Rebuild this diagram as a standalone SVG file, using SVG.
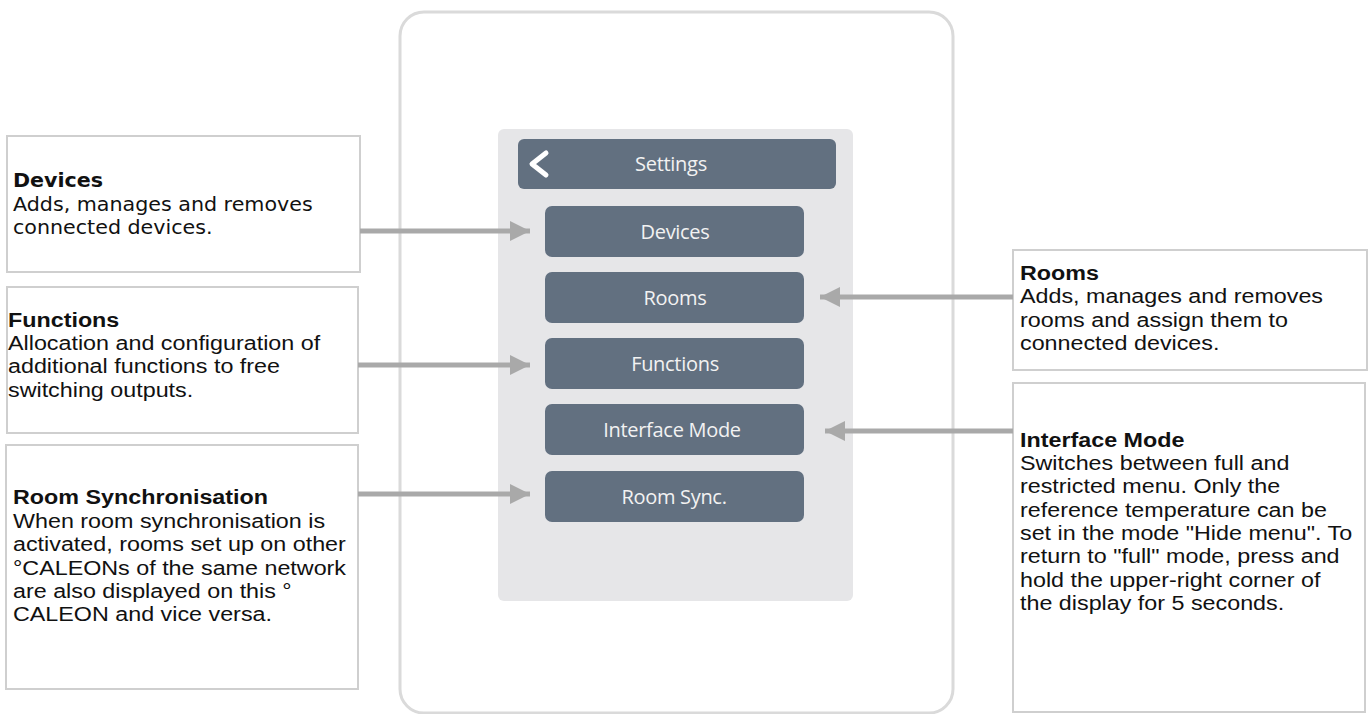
<svg xmlns="http://www.w3.org/2000/svg" width="1371" height="714" viewBox="0 0 1371 714">
<defs>
<style>
.frame{fill:#ffffff;stroke:#dadada;stroke-width:3}
.panel{fill:#e6e6e8}
.btn{fill:#627080}
.btxt{font-family:"Open Sans","Noto Sans",sans-serif;font-size:20px;fill:#f2f2f2;text-anchor:middle;letter-spacing:-0.3px}
.box{fill:#ffffff;stroke:#cfcfcf;stroke-width:2}
.t{font-family:"Liberation Sans",Arial,sans-serif;font-size:21px;fill:#111111}
.tb{font-weight:bold}
.tt{font-family:"DejaVu Sans",Verdana,sans-serif;font-size:18.6px;fill:#111111}
.conn{stroke:#a9a9a9;stroke-width:5;fill:none}
</style>
<marker id="ah" markerWidth="20" markerHeight="20" viewBox="0 0 20 20" refX="20" refY="10" markerUnits="userSpaceOnUse" orient="auto">
<path d="M0,0 L20,10 L0,20 Z" fill="#a9a9a9"/>
</marker>
</defs>

<g id="device">
<rect class="frame" x="400" y="12" width="553" height="701" rx="24"/>
<rect class="panel" x="498" y="129" width="355" height="472" rx="6"/>
</g>

<g id="header">
<rect class="btn" x="518" y="139" width="318" height="50" rx="6"/>
<polyline points="546,153 532,164 546,175" fill="none" stroke="#ffffff" stroke-width="5" stroke-linecap="round" stroke-linejoin="round"/>
<text class="btxt" x="671" y="171">Settings</text>
</g>

<g id="btn-devices">
<rect class="btn" x="545" y="206" width="259" height="51" rx="7"/>
<text class="btxt" x="675" y="238.5">Devices</text>
</g>
<g id="btn-rooms">
<rect class="btn" x="545" y="272" width="259" height="51" rx="7"/>
<text class="btxt" x="675" y="304.5">Rooms</text>
</g>
<g id="btn-functions">
<rect class="btn" x="545" y="338" width="259" height="51" rx="7"/>
<text class="btxt" x="675" y="370.5">Functions</text>
</g>
<g id="btn-interface">
<rect class="btn" x="545" y="404" width="259" height="51" rx="7"/>
<text class="btxt" x="672" y="436.5">Interface Mode</text>
</g>
<g id="btn-roomsync">
<rect class="btn" x="545" y="471" width="259" height="51" rx="7"/>
<text class="btxt" x="674" y="503.5">Room Sync.</text>
</g>

<g id="callout-devices">
<rect class="box" x="7" y="136" width="353" height="136"/>
<g transform="translate(13,0) scale(1.11,1)">
<text class="tt" x="0" y="187" font-weight="bold">Devices</text>
<text class="tt" x="0" y="211">Adds, manages and removes</text>
<text class="tt" x="0" y="234">connected devices.</text>
</g>
</g>

<g id="callout-functions">
<rect class="box" x="7" y="287" width="351" height="146"/>
<g transform="translate(8,0) scale(1.11,1)">
<text class="t tb" x="0" y="327">Functions</text>
<text class="t" x="0" y="350">Allocation and configuration of</text>
<text class="t" x="0" y="373">additional functions to free</text>
<text class="t" x="0" y="397">switching outputs.</text>
</g>
</g>

<g id="callout-roomsync">
<rect class="box" x="6" y="445" width="352" height="244"/>
<g transform="translate(13,0) scale(1.11,1)">
<text class="t tb" x="0" y="504">Room Synchronisation</text>
<text class="t" x="0" y="528">When room synchronisation is</text>
<text class="t" x="0" y="551">activated, rooms set up on other</text>
<text class="t" x="0" y="575">°CALEONs of the same network</text>
<text class="t" x="0" y="598">are also displayed on this °</text>
<text class="t" x="0" y="621">CALEON and vice versa.</text>
</g>
</g>

<g id="callout-rooms">
<rect class="box" x="1013" y="250" width="354" height="120"/>
<g transform="translate(1020,0) scale(1.11,1)">
<text class="t tb" x="0" y="280">Rooms</text>
<text class="t" x="0" y="303">Adds, manages and removes</text>
<text class="t" x="0" y="327">rooms and assign them to</text>
<text class="t" x="0" y="350">connected devices.</text>
</g>
</g>

<g id="callout-interface">
<rect class="box" x="1013" y="383" width="352" height="329"/>
<g transform="translate(1020,0) scale(1.11,1)">
<text class="t tb" x="0" y="447">Interface Mode</text>
<text class="t" x="0" y="470">Switches between full and</text>
<text class="t" x="0" y="493">restricted menu. Only the</text>
<text class="t" x="0" y="517">reference temperature can be</text>
<text class="t" x="0" y="540">set in the mode "Hide menu". To</text>
<text class="t" x="0" y="563">return to "full" mode, press and</text>
<text class="t" x="0" y="587">hold the upper-right corner of</text>
<text class="t" x="0" y="610">the display for 5 seconds.</text>
</g>
</g>

<g id="connectors">
<line class="conn" x1="360" y1="231" x2="530" y2="231" marker-end="url(#ah)"/>
<line class="conn" x1="358" y1="365" x2="530" y2="365" marker-end="url(#ah)"/>
<line class="conn" x1="358" y1="494" x2="530" y2="494" marker-end="url(#ah)"/>
<line class="conn" x1="1013" y1="297" x2="820" y2="297" marker-end="url(#ah)"/>
<line class="conn" x1="1013" y1="431" x2="825" y2="431" marker-end="url(#ah)"/>
</g>
</svg>
